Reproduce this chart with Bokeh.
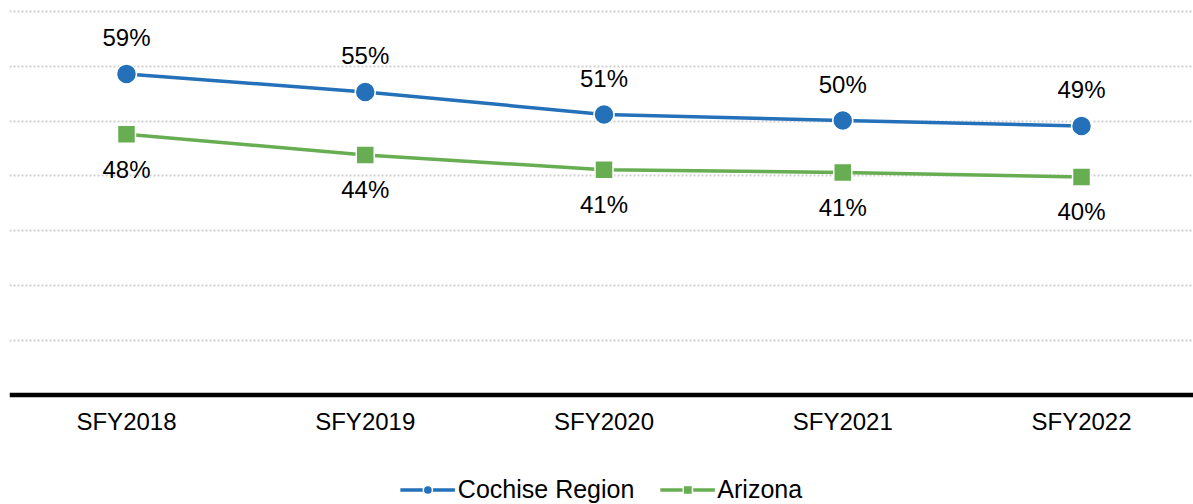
from bokeh.plotting import figure
from bokeh.models import Range1d, FixedTicker, Span, Legend, LegendItem, ColumnDataSource
from bokeh.core.properties import value
from bokeh.embed import file_html
from bokeh.resources import INLINE

categories = ["SFY2018", "SFY2019", "SFY2020", "SFY2021", "SFY2022"]
cochise = [58.6, 55.3, 51.2, 50.1, 49.1]
arizona = [47.6, 43.8, 41.1, 40.6, 39.8]
grid_ticks = [10, 20, 30, 40, 50, 60, 70]

BLUE = "#2470B9"
GREEN = "#67AD51"
FONT = "Liberation Sans"

xs = list(range(len(categories)))
src_c = ColumnDataSource(dict(x=xs, y=cochise, lab=[f"{round(v)}%" for v in cochise]))
src_a = ColumnDataSource(dict(x=xs, y=arizona, lab=[f"{round(v)}%" for v in arizona]))

p = figure(frame_width=1184, frame_height=504, output_backend="svg", toolbar_location=None,
           x_range=Range1d(-0.49, 4.469), y_range=Range1d(-20.0, 72.0),
           y_axis_location=None, min_border_left=9, min_border_right=0,
           min_border_top=0, min_border_bottom=0)
p.outline_line_color = None
p.background_fill_color = "white"
p.border_fill_color = "white"

p.xgrid.visible = False
p.ygrid.ticker = FixedTicker(ticks=grid_ticks)
p.ygrid.grid_line_color = "#CFCFCF"
p.ygrid.grid_line_dash = "2 2"
p.ygrid.grid_line_width = 2

xa = p.xaxis[0]
xa.fixed_location = 0
xa.ticker = FixedTicker(ticks=xs)
xa.major_label_overrides = {i: c for i, c in enumerate(categories)}
xa.axis_line_color = None
xa.major_tick_line_color = None
xa.minor_tick_line_color = None
xa.major_tick_out = 0
xa.major_tick_in = 0
xa.major_label_standoff = 13
xa.major_label_text_font = FONT
xa.major_label_text_font_size = "24px"
xa.major_label_text_color = "black"

p.add_layout(Span(location=0, dimension="width", line_color="black", line_width=4.5))

l1 = p.line("x", "y", source=src_c, line_color=BLUE, line_width=3.5)
s1 = p.scatter("x", "y", source=src_c, marker="circle", size=20, fill_color=BLUE,
               line_color="white", line_width=1.5)
l2 = p.line("x", "y", source=src_a, line_color=GREEN, line_width=3.5)
s2 = p.scatter("x", "y", source=src_a, marker="square", size=18, fill_color=GREEN,
               line_color="white", line_width=1.5)

p.text("x", "y", text="lab", source=src_c, y_offset=-36, text_align="center",
       text_baseline="middle", text_font_size="24px", text_font=value(FONT),
       text_color="black")
p.text("x", "y", text="lab", source=src_a, y_offset=35, text_align="center",
       text_baseline="middle", text_font_size="24px", text_font=value(FONT),
       text_color="black")

legend = Legend(items=[LegendItem(label="Cochise Region", renderers=[l1, s1]),
                       LegendItem(label="Arizona", renderers=[l2, s2])],
                orientation="horizontal", location="bottom_center",
                glyph_width=55, glyph_height=23, label_height=23, label_standoff=3, spacing=25,
                label_text_font=FONT, label_text_font_size="25px", label_text_color="black",
                border_line_color=None, background_fill_alpha=0,
                padding=0, margin=0)
p.add_layout(legend, "center")

open("out.html", "w").write(file_html(p, INLINE))
